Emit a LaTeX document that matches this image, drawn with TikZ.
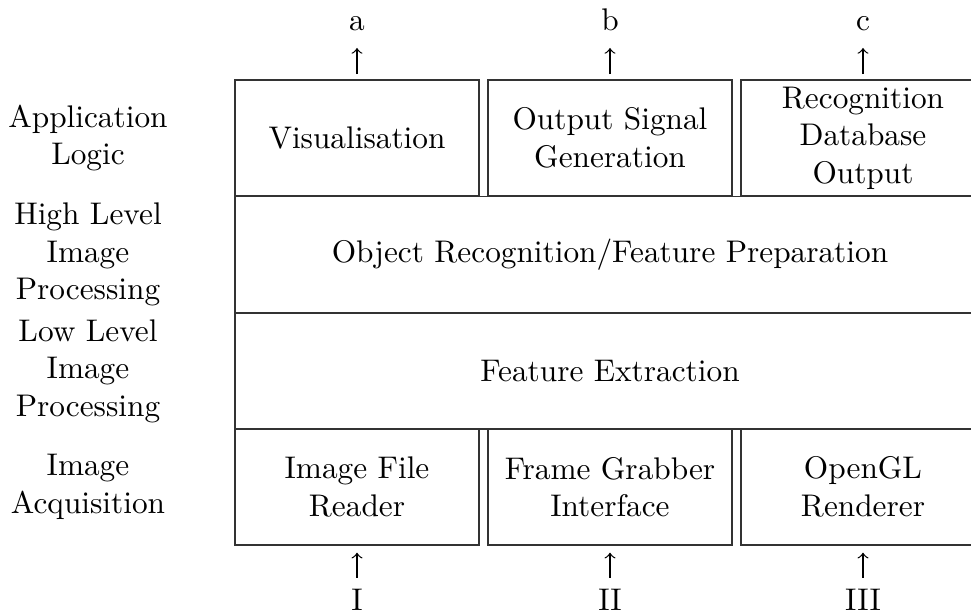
\documentclass[tikz,border=0pt]{standalone}
\usetikzlibrary{arrows.meta}
\begin{document}
\begin{tikzpicture}[x=0.3195pt,y=-0.3195pt,
  layerbox/.style={draw=black!80, line width=0.5pt, align=center, inner sep=0pt,
                   minimum height=37.06pt},
  narrowbox/.style={layerbox, minimum width=77.96pt},
  widebox/.style={layerbox, minimum width=239.6pt},
  sidelabel/.style={align=center},
  portlabel/.style={anchor=base},
  flow/.style={-to, line width=0.4pt}]
\useasboundingbox (0,0) rectangle (971,612);
\begin{scope}
\clip (0,0) rectangle (971,612);

% layer names on the left
\node[sidelabel] (lapp) at (88,138)   {Application\\Logic};
\node[sidelabel] (lhigh) at (88,254.5) {High Level\\Image\\Processing};
\node[sidelabel] (llow) at (88,371)   {Low Level\\Image\\Processing};
\node[sidelabel] (lacq) at (88,487)   {Image\\Acquisition};

% application logic
\node[narrowbox] (vis) at (357,138) {Visualisation};
\node[narrowbox] (osg) at (610,138) {Output Signal\\Generation};
\node[narrowbox] (rdo) at (863,138) {Recognition\\Database\\Output};

% image processing layers
\node[widebox] (orf) at (610,254.5) {Object Recognition/Feature Preparation};
\node[widebox] (fe)  at (610,371)   {Feature Extraction};

% image acquisition
\node[narrowbox] (ifr) at (357,487) {Image File\\Reader};
\node[narrowbox] (fgi) at (610,487) {Frame Grabber\\Interface};
\node[narrowbox] (ogl) at (863,487) {OpenGL\\Renderer};

% outputs
\node[portlabel] (outa) at (357,30) {a};
\node[portlabel] (outb) at (610,30) {b};
\node[portlabel] (outc) at (863,30) {c};

% inputs
\node[portlabel] (in1) at (357,610) {I};
\node[portlabel] (in2) at (610,610) {II};
\node[portlabel] (in3) at (863,610) {III};

\foreach \b/\o in {vis/outa, osg/outb, rdo/outc}
  \draw[flow, shorten <=1.6pt, shorten >=2.1pt] (\b.north) -- (\o.south);
\foreach \i/\b in {in1/ifr, in2/fgi, in3/ogl}
  \draw[flow, shorten >=2.2pt] (\i.north) -- (\b.south);
\end{scope}
\end{tikzpicture}
\end{document}
